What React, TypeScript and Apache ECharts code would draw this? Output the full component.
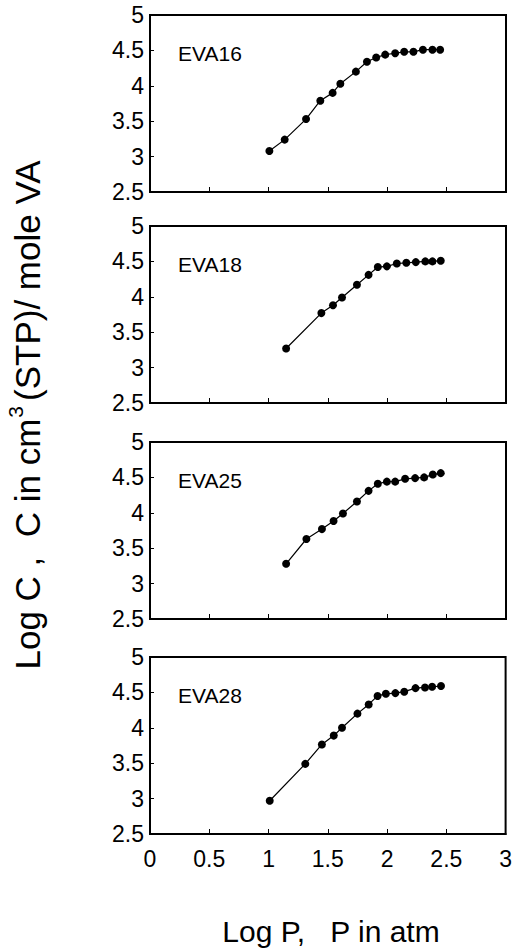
import React, { useEffect, useRef } from 'react';
import * as echarts from 'echarts';

const panelNames = ['EVA16', 'EVA18', 'EVA25', 'EVA28'];

const eva16X = [1.006, 1.135, 1.315, 1.435, 1.539, 1.604, 1.735, 1.828, 1.906, 1.982, 2.066, 2.142, 2.22, 2.3, 2.38, 2.445];
const eva16Y = [3.08, 3.24, 3.53, 3.79, 3.9, 4.03, 4.2, 4.34, 4.4, 4.44, 4.46, 4.48, 4.48, 4.51, 4.51, 4.51];

const eva18X = [1.147, 1.444, 1.542, 1.618, 1.744, 1.842, 1.92, 1.996, 2.08, 2.16, 2.24, 2.32, 2.38, 2.45];
const eva18Y = [3.27, 3.77, 3.88, 3.99, 4.17, 4.31, 4.42, 4.43, 4.47, 4.48, 4.49, 4.5, 4.5, 4.51];

const eva25X = [1.147, 1.318, 1.449, 1.547, 1.626, 1.744, 1.842, 1.92, 1.996, 2.066, 2.15, 2.234, 2.31, 2.383, 2.45];
const eva25Y = [3.28, 3.63, 3.77, 3.885, 3.99, 4.16, 4.31, 4.41, 4.44, 4.44, 4.48, 4.49, 4.5, 4.54, 4.56];

const eva28X = [1.01, 1.31, 1.45, 1.55, 1.62, 1.75, 1.845, 1.92, 1.99, 2.07, 2.145, 2.24, 2.32, 2.38, 2.455];
const eva28Y = [2.97, 3.49, 3.765, 3.89, 4.0, 4.2, 4.33, 4.45, 4.48, 4.49, 4.51, 4.56, 4.57, 4.58, 4.59];

const panelXs = [eva16X, eva18X, eva25X, eva28X];
const panelYs = [eva16Y, eva18Y, eva25Y, eva28Y];

const xAxisTitle = 'Log P,   P in atm';
const yAxisTitlePre = 'Log C ,  C in cm';
const yAxisTitleSup = '3';
const yAxisTitlePost = '(STP)/ mole VA';

export default function App() {
  const ref = useRef<HTMLDivElement>(null);
  useEffect(() => {
    document.body.style.margin = '0';
    const chart = echarts.init(ref.current!, null, { renderer: 'svg' });
    const font = '"Liberation Sans", Arial, sans-serif';
    const tops = [15, 226, 442, 657];
    const H = 177;
    const grids = tops.map((t) => ({
      left: 150,
      width: 356,
      top: t,
      height: H,
      show: true,
      borderColor: '#000',
      borderWidth: 2,
      backgroundColor: 'transparent',
    }));
    const xAxes = tops.map((_, i) => ({
      type: 'value',
      gridIndex: i,
      min: 0,
      max: 3,
      interval: 0.5,
      axisLine: { show: true, lineStyle: { color: '#000', width: 2 } },
      axisTick: { show: true, inside: true, length: 5, lineStyle: { color: '#000', width: 1 } },
      splitLine: { show: false },
      axisLabel: { show: i === 3, color: '#000', fontSize: 23, fontFamily: font, margin: 13 },
    }));
    const yAxes = tops.map((_, i) => ({
      type: 'value',
      gridIndex: i,
      min: 2.5,
      max: 5,
      interval: 0.5,
      axisLine: { show: true, lineStyle: { color: '#000', width: 2 } },
      axisTick: { show: true, inside: true, length: 4, lineStyle: { color: '#000', width: 1 } },
      splitLine: { show: false },
      axisLabel: { color: '#000', fontSize: 23, fontFamily: font, margin: 6 },
    }));
    const series = panelXs.map((xs, i) => ({
      type: 'line',
      xAxisIndex: i,
      yAxisIndex: i,
      data: xs.map((x, j) => [x, panelYs[i][j]]),
      symbol: 'circle',
      symbolSize: 8,
      lineStyle: { color: '#000', width: 1.2 },
      itemStyle: { color: '#000' },
      z: 3,
    }));
    const graphic: any[] = panelNames.map((name, i) => ({
      type: 'text',
      x: 178,
      y: tops[i] + 38,
      style: {
        text: name,
        fill: '#000',
        font: `21px ${font}`,
        verticalAlign: 'middle',
        align: 'left',
      },
    }));
    graphic.push({
      type: 'text',
      x: 331,
      y: 931,
      style: {
        text: xAxisTitle,
        fill: '#000',
        font: `30px ${font}`,
        align: 'center',
        verticalAlign: 'middle',
      },
    });
    graphic.push({
      type: 'text',
      x: 25,
      y: 415,
      rotation: Math.PI / 2,
      style: {
        text: `{m|${yAxisTitlePre}}{s|${yAxisTitleSup}}{m|${yAxisTitlePost}}`,
        fill: '#000',
        align: 'center',
        verticalAlign: 'middle',
        rich: {
          m: { fontSize: 35, fontFamily: font, color: '#000', lineHeight: 40, verticalAlign: 'bottom' },
          s: { fontSize: 21, fontFamily: font, color: '#000', lineHeight: 40, verticalAlign: 'top', padding: [0, 5, 0, 1] },
        },
      },
    });
    chart.setOption({
      animation: false,
      backgroundColor: '#fff',
      grid: grids,
      xAxis: xAxes,
      yAxis: yAxes,
      series,
      graphic,
    });
    return () => chart.dispose();
  }, []);
  return <div ref={ref} style={{ width: 515, height: 949 }} />;
}
